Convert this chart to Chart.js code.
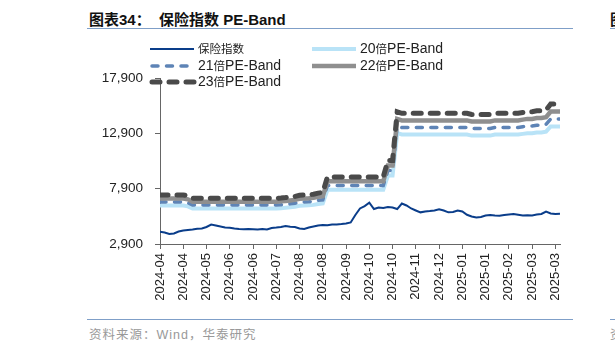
<!DOCTYPE html>
<html>
<head>
<meta charset="utf-8">
<script src="https://cdn.jsdelivr.net/npm/chart.js@4.4.1/dist/chart.umd.min.js"></script>
<style>
  html, body { margin: 0; padding: 0; background: #fff; }
  body { width: 615px; height: 351px; position: relative; overflow: hidden; font-family: "Liberation Sans", "Noto Sans CJK SC", sans-serif; }
  .title { position: absolute; top: 8px; font-size: 15px; font-weight: bold; color: #111; white-space: nowrap; }
  .rule { position: absolute; height: 0; border-top: 1.5px solid #7f9fc8; }
  .source { position: absolute; top: 324px; font-size: 12.5px; color: #999; letter-spacing: 1px; white-space: nowrap; }
  canvas { position: absolute; left: 0; top: 0; }
</style>
</head>
<body>
<div class="title" style="left:89px">图表34：</div>
<div class="title" style="left:159px">保险指数 PE-Band</div>
<div class="rule" style="left:87px; width:486px; top:28px"></div>
<div class="rule" style="left:87px; width:486px; top:319px"></div>
<div class="source" style="left:89px">资料来源：Wind，华泰研究</div>
<!-- edge of the next panel -->
<div class="title" style="left:610px">图</div>
<div class="rule" style="left:610px; width:10px; top:28px"></div>
<div class="rule" style="left:610px; width:10px; top:319px"></div>
<div class="source" style="left:610px">资</div>
<canvas id="chart" width="615" height="351"></canvas>
<script>
// tick labels (one every 5 points)
const tickLabels = ['2024-04', '2024-04', '2024-05', '2024-06', '2024-06', '2024-07', '2024-08', '2024-08', '2024-09',
    '2024-10', '2024-10', '2024-11', '2024-12', '2025-01', '2025-01', '2025-02', '2025-03', '2025-03'];
const yTicks = [2900, 7900, 12900, 17900];
const seriesNames = ['保险指数', '20倍PE-Band', '21倍PE-Band', '22倍PE-Band', '23倍PE-Band'];

const indexValues = [
    4010, 3940, 3800, 3850, 4030, 4120, 4170, 4210, 4270, 4300,
    4440, 4660, 4570, 4480, 4390, 4370, 4300, 4255, 4230, 4255,
    4230, 4210, 4255, 4210, 4350, 4390, 4440, 4530, 4460, 4440,
    4300, 4255, 4390, 4480, 4570, 4620, 4590, 4660, 4660, 4700,
    4750, 4850, 5520, 6110, 6330, 6630, 6060, 6200, 6150, 6240,
    6200, 6060, 6560, 6380, 6110, 5930, 5760, 5840, 5880, 5930,
    6040, 5930, 5760, 5790, 5930, 5840, 5540, 5385, 5295, 5340,
    5475, 5520, 5475, 5457, 5520, 5566, 5610, 5540, 5475, 5495,
    5475, 5566, 5610, 5820, 5656, 5610, 5640
];

const band20 = [
    6374, 6374, 6374, 6374, 6374, 6374, 6304,
    6113, 6113, 6113, 6113, 6113, 6113, 6113, 6113, 6113, 6113, 6113, 6113, 6113, 6113, 6113, 6113, 6113, 6113, 6113,
    6139, 6174, 6217, 6261, 6348, 6374, 6391, 6435, 6522, 6565,
    7791, 7791, 7791, 7791, 7791, 7791, 7791, 7791, 7791, 7791, 7791, 7791, 7791,
    9087, 9087, 12913,
    12791, 12791, 12791, 12791, 12791, 12791, 12791, 12791, 12791, 12791, 12791, 12791, 12791, 12791, 12791,
    12696, 12696, 12696, 12696, 12696,
    12791, 12791, 12791, 12791, 12791, 12791,
    12852, 12913, 12913, 12983, 12983, 13052, 13522, 13522, 13522
];

const band21 = [
    6693, 6693, 6693, 6693, 6693, 6693, 6620,
    6419, 6419, 6419, 6419, 6419, 6419, 6419, 6419, 6419, 6419, 6419, 6419, 6419, 6419, 6419, 6419, 6419, 6419, 6419,
    6446, 6483, 6528, 6574, 6665, 6693, 6711, 6757, 6848, 6893,
    8181, 8181, 8181, 8181, 8181, 8181, 8181, 8181, 8181, 8181, 8181, 8181, 8181,
    9541, 9541, 13559,
    13431, 13431, 13431, 13431, 13431, 13431, 13431, 13431, 13431, 13431, 13431, 13431, 13431, 13431, 13431,
    13330, 13330, 13330, 13330, 13330,
    13431, 13431, 13431, 13431, 13431, 13431,
    13495, 13559, 13559, 13632, 13632, 13705, 14198, 14198, 14198
];

const band22 = [
    7011, 7011, 7011, 7011, 7011, 7011, 6935,
    6724, 6724, 6724, 6724, 6724, 6724, 6724, 6724, 6724, 6724, 6724, 6724, 6724, 6724, 6724, 6724, 6724, 6724, 6724,
    6753, 6791, 6839, 6887, 6983, 7011, 7030, 7078, 7174, 7222,
    8570, 8570, 8570, 8570, 8570, 8570, 8570, 8570, 8570, 8570, 8570, 8570, 8570,
    9996, 9996, 14204,
    14070, 14070, 14070, 14070, 14070, 14070, 14070, 14070, 14070, 14070, 14070, 14070, 14070, 14070, 14070,
    13965, 13965, 13965, 13965, 13965,
    14070, 14070, 14070, 14070, 14070, 14070,
    14137, 14204, 14204, 14281, 14281, 14357, 14874, 14874, 14874
];

const band23 = [
    7330, 7330, 7330, 7330, 7330, 7330, 7250,
    7030, 7030, 7030, 7030, 7030, 7030, 7030, 7030, 7030, 7030, 7030, 7030, 7030, 7030, 7030, 7030, 7030, 7030, 7030,
    7060, 7100, 7150, 7200, 7300, 7330, 7350, 7400, 7500, 7550,
    8960, 8960, 8960, 8960, 8960, 8960, 8960, 8960, 8960, 8960, 8960, 8960, 8960,
    10450, 10450, 14850,
    14710, 14710, 14710, 14710, 14710, 14710, 14710, 14710, 14710, 14710, 14710, 14710, 14710, 14710, 14710,
    14600, 14600, 14600, 14600, 14600,
    14710, 14710, 14710, 14710, 14710, 14710,
    14780, 14850, 14850, 14930, 14930, 15010, 15550, 15550, 15550
];

const STEP = 5; // points between two x tick labels
const toXY = arr => arr.map((v, i) => ({ x: i, y: v }));

const datasets = [
    { label: seriesNames[0], data: toXY(indexValues), borderColor: '#0a3d8a', borderWidth: 2, order: 0 },
    { label: seriesNames[1], data: toXY(band20), borderColor: '#b9e3f7', borderWidth: 4, order: 4 },
    { label: seriesNames[2], data: toXY(band21), borderColor: '#5e84b6', borderWidth: 3.5, borderDash: [6, 8.5], borderCapStyle: 'round', order: 3 },
    { label: seriesNames[3], data: toXY(band22), borderColor: '#8f8f8f', borderWidth: 4.5, order: 2 },
    { label: seriesNames[4], data: toXY(band23), borderColor: '#4a4a4a', borderWidth: 5, borderDash: [8, 9], borderCapStyle: 'round', order: 1 }
];
datasets.forEach(d => { d.pointRadius = 0; d.fill = false; d.tension = 0; });

// legend in two columns, drawn by hand
const legendSlots = [[150, 49], [312, 49], [150, 66], [312, 66], [150, 82]];

function drawMixed(ctx, text, x, y) {
    const runs = text.match(/[\u4e00-\u9fff\uff00-\uffef]+|[^\u4e00-\u9fff\uff00-\uffef]+/g);
    runs.forEach(r => {
        const cjk = /[\u4e00-\u9fff]/.test(r);
        ctx.font = cjk ? '11.5px "Noto Sans CJK SC"' : '14px "Liberation Sans Narrow", "Liberation Sans"';
        ctx.fillText(r, x, y);
        x += ctx.measureText(r).width;
    });
}

const legendPlugin = {
    id: 'twoColLegend',
    afterDraw(chart) {
        const ctx = chart.ctx;
        chart.data.datasets.forEach((d, i) => {
            const [x, y] = legendSlots[i];
            ctx.save();
            ctx.strokeStyle = d.borderColor;
            ctx.lineWidth = d.borderWidth;
            ctx.lineCap = d.borderCapStyle || 'butt';
            ctx.setLineDash(d.borderDash || []);
            ctx.beginPath();
            ctx.moveTo(x + (d.borderDash ? 2 : 0), y);
            ctx.lineTo(x + 44, y);
            ctx.stroke();
            ctx.restore();
            ctx.save();
            ctx.fillStyle = '#222';
            ctx.textBaseline = 'middle';
            drawMixed(ctx, d.label, x + 48, y);
            ctx.restore();
        });
    }
};

const axisGrid = { drawOnChartArea: false, drawTicks: true, tickLength: 5, color: '#666', lineWidth: 1 };
const axisBorder = { color: '#666', width: 1 };

new Chart(document.getElementById('chart'), {
    type: 'line',
    data: { datasets },
    options: {
        responsive: false,
        animation: false,
        layout: { padding: { left: 100, right: 55, top: 78, bottom: 47 } },
        plugins: { legend: { display: false }, tooltip: { enabled: false } },
        scales: {
            x: {
                type: 'linear',
                min: 0,
                max: indexValues.length - 1,
                afterBuildTicks: a => { a.ticks = tickLabels.map((_, j) => ({ value: j * STEP })); },
                afterFit: s => { s.height = 60; },
                ticks: {
                    autoSkip: false, minRotation: 90, maxRotation: 90, padding: 4, color: '#222',
                    font: { family: '"Liberation Sans", Arial', size: 13 },
                    callback: v => tickLabels[Math.round(v / STEP)] || ''
                },
                grid: axisGrid,
                border: axisBorder
            },
            y: {
                min: yTicks[0],
                max: yTicks[yTicks.length - 1],
                afterBuildTicks: a => { a.ticks = yTicks.map(v => ({ value: v })); },
                afterFit: s => { s.width = 60; },
                ticks: {
                    padding: 12, color: '#222',
                    font: { family: '"Liberation Sans", Arial', size: 13.5 },
                    callback: v => v.toLocaleString('en-US')
                },
                grid: axisGrid,
                border: axisBorder
            }
        }
    },
    plugins: [legendPlugin]
});
</script>
</body>
</html>
